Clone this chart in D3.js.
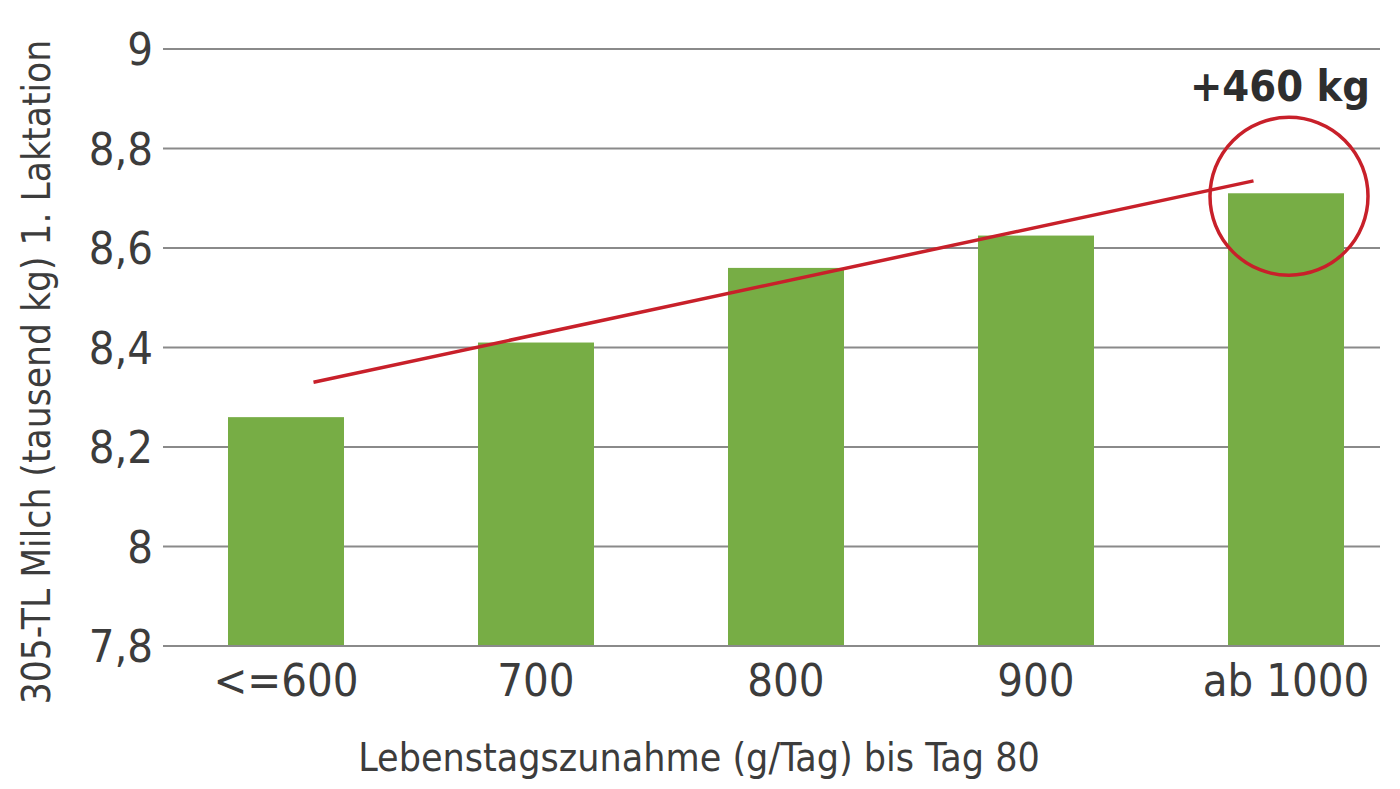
<!DOCTYPE html>
<html>
<head>
<meta charset="utf-8">
<script src="https://cdn.jsdelivr.net/npm/d3@7"></script>
<style>
  body { margin: 0; background: #fff; }
  svg text { font-family: "DejaVu Sans Condensed", "Liberation Sans Narrow", sans-serif; fill: #3c3c3c; }
</style>
</head>
<body>
<svg id="chart" width="1400" height="789"></svg>
<script>
const categories = ["<=600", "700", "800", "900", "ab 1000"];
const milk = [8.26, 8.41, 8.56, 8.625, 8.71];
const yTicks = [7.8, 8, 8.2, 8.4, 8.6, 8.8, 9];
// trend line ends, in category index units and milk values
const trendIdx = [0.11, 3.87];
const trendVal = [8.33, 8.735];
const note = "+460 kg";

const svg = d3.select("#chart");

const x = d3.scaleBand().domain(d3.range(categories.length)).range([161, 1411]).paddingInner(0.536).paddingOuter(0.268);
const y = d3.scaleLinear().domain([7.8, 9]).range([646, 49]);
const xIdx = d3.scaleLinear().domain([0, 1]).range([x(0) + x.bandwidth() / 2, x(1) + x.bandwidth() / 2]);

// gridlines
svg.append("g").selectAll("line").data(yTicks).join("line")
    .attr("x1", 163).attr("x2", 1380)
    .attr("y1", d => y(d)).attr("y2", d => y(d))
    .attr("stroke", "#8a8a8a").attr("stroke-width", 2);

// y labels
const fmt = d => String(d).replace(".", ",");
svg.append("g").selectAll("text").data(yTicks).join("text")
    .attr("x", 153).attr("y", d => y(d) + 16)
    .attr("text-anchor", "end").attr("font-size", 45)
    .text(fmt);

// bars
svg.append("g").selectAll("rect").data(milk).join("rect")
    .attr("x", (d, i) => x(i)).attr("width", x.bandwidth())
    .attr("y", d => y(d)).attr("height", d => y(7.8) - y(d) - 1)
    .attr("fill", "#77ad45");

// x labels
svg.append("g").selectAll("text").data(categories).join("text")
    .attr("x", (d, i) => x(i) + x.bandwidth() / 2).attr("y", 696)
    .attr("text-anchor", "middle").attr("font-size", 45)
    .text(d => d);

// trend line
svg.append("line")
    .attr("x1", xIdx(trendIdx[0])).attr("y1", y(trendVal[0]))
    .attr("x2", xIdx(trendIdx[1])).attr("y2", y(trendVal[1]))
    .attr("stroke", "#c8202a").attr("stroke-width", 3.5);

// highlight circle around last bar top
const last = milk.length - 1;
svg.append("circle")
    .attr("cx", x(last) + x.bandwidth() / 2 + 3).attr("cy", y(milk[last]) + 3)
    .attr("r", 79).attr("fill", "none")
    .attr("stroke", "#c8202a").attr("stroke-width", 3.5);

svg.append("text")
    .attr("x", 1370).attr("y", 101)
    .attr("text-anchor", "end").attr("font-size", 43).attr("font-weight", "bold")
    .style("fill", "#2e2e2e")
    .text(note);

// axis titles
svg.append("text")
    .attr("x", 699).attr("y", 771)
    .attr("text-anchor", "middle").attr("font-size", 39)
    .text("Lebenstagszunahme (g/Tag) bis Tag 80");

svg.append("text")
    .attr("transform", "translate(50,372) rotate(-90)")
    .attr("text-anchor", "middle").attr("font-size", 38.5)
    .text("305-TL Milch (tausend kg) 1. Laktation");
</script>
</body>
</html>
